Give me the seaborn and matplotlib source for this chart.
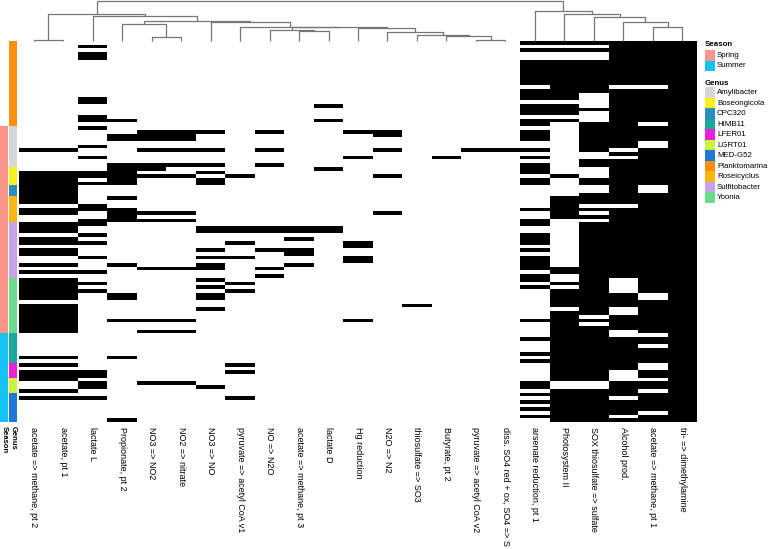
import numpy as np
import pandas as pd
import matplotlib
matplotlib.use("Agg")
import matplotlib.pyplot as plt
import seaborn as sns
from matplotlib.colors import ListedColormap
from matplotlib.patches import Rectangle

# ---------------- data ----------------
functions = [
    "acetate => methane, pt 2", "acetate, pt 1", "lactate L", "Propionate, pt 2",
    "NO3 => NO2", "NO2 => nitrate", "NO3 => NO", "pyruvate => acetyl CoA v1",
    "NO => N2O", "acetate => methane, pt 3", "lactate D", "Hg reduction",
    "N2O => N2", "thiosulfate => SO3", "Butyrate, pt 2", "pyruvate => acetyl CoA v2",
    "diss. SO4 red + ox, SO4 => S", "arsenate reduction, pt 1", "Photosystem II",
    "SOX thiosulfate => sulfate", "Alcohol prod.", "acetate => methane, pt 1",
    "tri- => dimethylamine",
]

# presence (1) / absence (0) per genome row, columns in the order above
presence_rows = [
    "00000000000000000 111111", "00100000000000000 000111", "00000000000000000 111111",
    "00100000000000000 000111", "00100000000000000 000111", "00000000000000000 111111",
    "00000000000000000 111111", "00000000000000000 111111", "00000000000000000 111111",
    "00000000000000000 111111", "00000000000000000 111111", "00000000000000000 111111",
    "00000000000000000 011001", "00000000000000000 111111", "00000000000000000 110111",
    "00100000000000000 110111", "00100000000000000 000111", "00000000001000000 110111",
    "00000000000000000 111111", "00000000000000000 110111", "00100000000000000 000111",
    "00110000001000000 110111", "00000000000000000 101101",
    "00100000000000000 001111", "00001110100110000 101111", "00011100000010000 101111",
    "00011100000000000 101111", "00000000000000000 001101", "00100000000000000 001101",
    "11001110100010011 101011", "00000000000000000 000111", "00100000000100100 100011",
    "00000000000000000 001111", "00011110100000000 101111",
    "00011000001000000 100111", "11110010000000000 100111", "11111101000010000 010111",
    "11010010000000000 101111", "11110010000000000 101111",
    "11000000000000000 000101", "11000000000000000 000101", "11000000000000000 001111",
    "11010000000000000 011111", "11000000000000000 011111", "00100000000000000 010011",
    "11110000000000000 111111", "11011100000010000 010111", "00010000000000000 011111",
    "00111100000000000 100111",
    "11100000000000000 101111", "11000011111000000 001111", "11000011111000000 001111",
    "00100000000000000 101111", "11000000010000000 101111", "11100001000100000 101111",
    "00000000000100000 001111", "11000010110000000 101111", "11000000010000000 001111",
    "00100011000100000 101111", "00000000000100000 101111", "11010010010000000 101111",
    "00001110100000000 111111", "11100000000000000 011111", "00000000100000000 101111",
    "11000010000000000 101011", "11100001000000000 011011", "11000010000000000 101011",
    "11100001000000000 011011", "11010010000000000 011101", "11010010000000000 011101",
    "00000000000000000 011111", "11000000000001000 011111", "11000010000000000 001011",
    "11000000000000000 011011", "11000000000000000 010111", "11011100000100000 111111",
    "11000000000000000 010111", "11000000000000000 011111", "11001100000000000 011011",
    "00000000000000000 011001", "00000000000000000 111111", "00000000000000000 011111",
    "00000000000000000 011101", "00000000000000000 011111", "00000000000000000 111111",
    "11010000000000000 011111", "00000000000000000 111111",
    "11000001000000000 011101", "00000000000000000 011101", "11100001000000000 011011",
    "11100000000000000 011011",
    "11000000000000000 011001", "00101100000000000 100111", "00100010000000000 100111",
    "11000000000000000 011101",
    "00000000000000000 111111", "11100001000000000 011011", "00000000000000000 111111",
    "00000000000000000 011111", "00000000000000000 111111", "00000000000000000 011101",
    "00000000000000000 111011", "00010000000000000 011111",
]

# row annotation blocks (top to bottom)
genus_blocks = ["Planktomarina", "Amylibacter", "Boseongicola", "CPC320", "Roseicyclus",
                "Sulfitobacter", "Yoonia", "HIMB11", "LFER01", "LGRT01", "MED-G52"]
genus_block_rows = [23, 11, 5, 3, 7, 15, 15, 8, 4, 4, 8]
season_blocks = [None, "Spring", "Summer"]
season_block_rows = [23, 56, 24]

# legend categories and colours
season_levels = ["Spring", "Summer"]
season_colors = ["#F9958A", "#14C3F4"]
genus_levels = ["Amylibacter", "Boseongicola", "CPC320", "HIMB11", "LFER01", "LGRT01",
                "MED-G52", "Planktomarina", "Roseicyclus", "Sulfitobacter", "Yoonia"]
genus_colors = ["#D6D6D6", "#F6F21E", "#2A8DC2", "#1EA79E", "#F01EDA", "#CDF43C",
                "#1F78DA", "#FF8F0C", "#FFB612", "#C6A2E4", "#6ADB8C"]

# column dendrogram (merge name, left child, right child, height)
col_merges = [
    ("a01", "c0", "c1", 0.3), ("a45", "c4", "c5", 3.2), ("aC", "c3", "a45", 16.2),
    ("a910", "c9", "c10", 9.8), ("aD", "c8", "a910", 10.5),
    ("a1516", "c15", "c16", 0.3), ("aO", "c14", "a1516", 4.8), ("aP", "c13", "aO", 5.1),
    ("aQ", "c12", "aP", 8.8), ("aR", "c11", "aQ", 12.2), ("aU", "aD", "aR", 13.2),
    ("aV", "c7", "aU", 13.8), ("aW", "c6", "aV", 18.2), ("aY", "aC", "aW", 19.8),
    ("aX", "c2", "aY", 24.5), ("aL", "a01", "aX", 26.2),
    ("b2122", "c21", "c22", 13.8), ("b20", "c20", "b2122", 18.8), ("b19", "c19", "b20", 23.2),
    ("b18", "c18", "b19", 26.5), ("b17", "c17", "b18", 29.8),
    ("root", "aL", "b17", 39.5),
]

# ---------------- build tables ----------------
ncol = len(functions)
matrix = []
for s in presence_rows:
    left, right = s.split()
    bits = (left + right).ljust(ncol, "0")[:ncol]
    matrix.append([int(b) for b in bits])
df = pd.DataFrame(matrix, columns=functions)
nrow = len(df)

genus_per_row = []
for g, n in zip(genus_blocks, genus_block_rows):
    genus_per_row += [g] * n
season_per_row = []
for s, n in zip(season_blocks, season_block_rows):
    season_per_row += [s] * n

genus_code = pd.DataFrame({"Genus": [genus_levels.index(g) for g in genus_per_row]})
season_code = pd.DataFrame({"Season": [np.nan if s is None else season_levels.index(s)
                                        for s in season_per_row]})

# ---------------- figure ----------------
plt.rcParams["font.family"] = ["Liberation Sans", "DejaVu Sans"]
W, H = 768, 549
fig = plt.figure(figsize=(W / 100, H / 100), dpi=100)


def px_axes(x0, y0, x1, y1):
    return fig.add_axes([x0 / W, (H - y1) / H, (x1 - x0) / W, (y1 - y0) / H])


hm_left, hm_right, hm_top, hm_bottom = 19.0, 697.0, 41.0, 422.1

ax = px_axes(hm_left, hm_top, hm_right, hm_bottom)
sns.heatmap(df, ax=ax, cmap=ListedColormap(["white", "black"]), vmin=0, vmax=1,
            cbar=False, xticklabels=functions, yticklabels=False)
ax.set_xticklabels(functions, rotation=270, ha="center", va="top", fontsize=6.45)
ax.tick_params(axis="x", length=0, pad=3.5)
ax.set_ylabel("")

ax_season = px_axes(0.0, hm_top, 8.3, hm_bottom)
sns.heatmap(season_code, ax=ax_season, cmap=ListedColormap(season_colors), vmin=-0.5,
            vmax=len(season_levels) - 0.5, cbar=False, xticklabels=["Season"],
            yticklabels=False)
ax_genus = px_axes(9.3, hm_top, 17.3, hm_bottom)
sns.heatmap(genus_code, ax=ax_genus, cmap=ListedColormap(genus_colors), vmin=-0.5,
            vmax=len(genus_levels) - 0.5, cbar=False, xticklabels=["Genus"],
            yticklabels=False)
for a, lab in ((ax_season, "Season"), (ax_genus, "Genus")):
    a.set_xticklabels([lab], rotation=270, ha="center", va="top", fontsize=5.5,
                      fontweight="bold")
    a.tick_params(axis="x", length=0, pad=3)
    a.set_ylabel("")

# dendrogram
axd = px_axes(hm_left, 0.5, hm_right, 40.5)
pos = {f"c{i}": i + 0.5 for i in range(ncol)}
hgt = {f"c{i}": 0.0 for i in range(ncol)}
for name, l, r, h in col_merges:
    xl, xr = pos[l], pos[r]
    axd.plot([xl, xl, xr, xr], [hgt[l], h, h, hgt[r]], color="#767676", lw=0.9,
             solid_capstyle="butt", clip_on=False)
    pos[name] = (xl + xr) / 2
    hgt[name] = h
axd.set_xlim(0, ncol)
axd.set_ylim(0, 40)
axd.axis("off")

# legend
axl = fig.add_axes([0, 0, 1, 1], facecolor="none")
axl.set_xlim(0, W)
axl.set_ylim(H, 0)
axl.axis("off")
lx, bw, bh = 705.0, 9.6, 10.5
fs = 5.7
axl.text(lx, 46.3, "Season", fontsize=fs, fontweight="bold", va="baseline", ha="left")
y = 50.0
for lab, col in zip(season_levels, season_colors):
    axl.add_patch(Rectangle((lx, y), bw, bh, facecolor=col, edgecolor="none"))
    axl.text(lx + 12, y + bh / 2, lab, fontsize=fs, va="center", ha="left")
    y += bh
axl.text(lx, 85.3, "Genus", fontsize=fs, fontweight="bold", va="baseline", ha="left")
y = 87.3
for lab, col in zip(genus_levels, genus_colors):
    axl.add_patch(Rectangle((lx, y), bw, bh, facecolor=col, edgecolor="none"))
    axl.text(lx + 12, y + bh / 2, lab, fontsize=fs, va="center", ha="left")
    y += bh

fig.savefig("out.png", dpi=100)
